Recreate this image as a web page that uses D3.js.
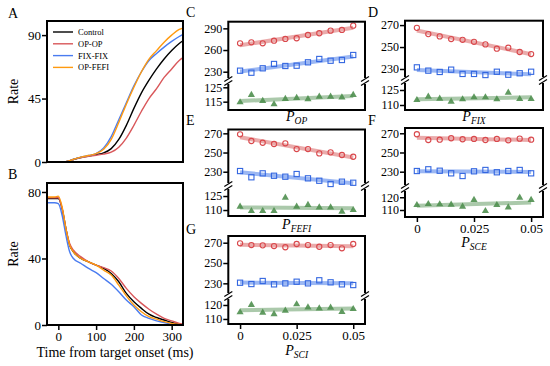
<!DOCTYPE html>
<html>
<head>
<meta charset="utf-8">
<script src="https://cdn.jsdelivr.net/npm/d3@7"></script>
<style>
body{margin:0;background:#fff}
svg, svg text{font-family:"Liberation Serif","Times New Roman",serif}
</style>
</head>
<body>
<svg></svg>
<script>
// ---- panel A : rate vs time (rising) ----
var timeA    = [-30,0,20,40,60,80,100,120,140,160,180,200,220,240,260,280,300,320,330];
var controlA = [0,0,0.3,1.8,3.2,4.2,5.3,6.5,9.5,16,26,38,49,58,66,73,79,84,86];
var opopA    = [0,0,0.3,1.8,3.2,4,4.8,5.6,7,10.5,17,26,36,45,52,60,66,72,74];
var fixfixA  = [0,0,0.3,1.8,3.5,4.6,6,10,18,30,42,54,64,72,77,81.5,85.5,89,90.5];
var opfefiA  = [0,0,0.3,1.8,3.5,4.6,6,9,16,28,41,53,64,73,79,85,90,94,95];

// ---- panel B : rate vs time (falling) ----
var timeB    = [-30,-20,-10,0,10,20,30,40,60,80,100,120,140,160,180,200,220,240,260,280,300,320,330];
var controlB = [76,76,76,76,70,58,48,44,40,38,36,34,31,26,19,14,10,6.5,4.5,3,1.5,0.5,0.2];
var opopB    = [76.5,76.5,76.5,76.5,70,58,49,45,41,38,36,34.5,32.5,28,22,17,13,9.5,6.5,4,2.5,1,0.5];
var fixfixB  = [73.5,73.5,73.5,73,66,54,44,40,37,34,31.5,28,24.5,20,15,11,6,4,2.5,1.5,0.5,0,0];
var opfefiB  = [77,77,77,77.5,71,58,48,44,40,38,36,33,30,24,17.5,12,8,5,3.5,2,1,0.3,0];

var seriesNames = ["Control","OP-OP","FIX-FIX","OP-FEFI"];
var seriesColors = ["#000000","#d9575a","#4a7cf0","#ff9a10"];

// ---- panels C-G : x = parameter value ----
var pVals = [0,0.005,0.01,0.015,0.02,0.025,0.03,0.035,0.04,0.045,0.05];
var pTicks = [0,0.025,0.05];

var cRed   = [269.3,270.7,269.3,272.9,275.3,276.3,280.8,283.2,286.8,287.8,293.7];
var cBlue  = [231.4,228.6,234.7,240.7,237.9,238.3,243,247.6,245.2,246.2,253.1];
var cGreen = [114.6,119.7,115.5,113.2,116.9,117.6,116.7,118.5,118.5,118,119.7];

var dRed   = [267.5,261.8,259.7,257.3,256.6,254.8,252.4,248.5,249.4,245.5,243.6];
var dBlue  = [231.5,228.5,227.3,229.4,225.5,225.5,224.5,227.5,224.8,226.1,227.5];
var dGreen = [115,118.3,116.3,113.3,115.7,117.7,117.7,115.7,122.3,116,116];

var eRed   = [269,262,260.2,258.9,259.6,253.6,253.6,249.1,250.2,247.4,245.6];
var eBlue  = [230.7,224.2,228.3,225.8,224.8,227.6,223.1,220.6,217.2,219.6,218.5];
var eGreen = [113.6,108.9,108.9,108.9,123.2,113.6,115.4,112.9,112.9,108.2,110];

var fRed   = [269,263,263.3,264.8,263.8,264.1,263,264.1,262.7,264.4,263.3];
var fBlue  = [230.7,232.5,231,228.3,225.5,230.4,231.8,229.4,230.7,231.8,228.3];
var fGreen = [113.9,114.7,114.5,114.2,112.6,117.9,109.2,113.9,112.1,119.7,117.9];

var gRed   = [269.4,267.7,267.4,266.7,265.5,268.7,267.7,266,267.7,264.5,268.7];
var gBlue  = [230.6,229.3,232.3,229,230,231.6,230,233,231,229,228.3];
var gGreen = [114.8,120,114.5,113.4,115.9,120.5,118.3,117.6,118.1,115,117.1];

var svg = d3.select("svg").attr("width", 550).attr("height", 366);

function frame(g, l, t, r, b, w){
    g.append("rect").attr("x", l).attr("y", t).attr("width", r - l).attr("height", b - t)
        .attr("fill", "none").attr("stroke", "#000").attr("stroke-width", w);
}

// strip d3's default axis styling so the serif font is used
function styleAxis(ax, fs){
    ax.attr("font-family", null).attr("font-size", null);
    ax.select(".domain").remove();
    ax.selectAll("line").attr("stroke-width", 1.5);
    ax.selectAll("text").style("font-size", fs).attr("fill", "#000");
}

// time panels
function timePanel(top, bottom, yMax, yTicks, t, data, xAxis){
    var x = d3.scaleLinear().domain([-30, 330]).range([47, 183]);
    var y = d3.scaleLinear().domain([0, yMax]).range([bottom, top]);
    var g = svg.append("g");
    var line = d3.line().x(function(d, i){ return x(t[i]); }).y(function(d){ return y(d); }).curve(d3.curveMonotoneX);
    data.forEach(function(s, k){
        g.append("path").datum(s).attr("d", line).attr("fill", "none")
            .attr("stroke", seriesColors[k]).attr("stroke-width", 1.4);
    });
    var ya = g.append("g").attr("transform", "translate(47,0)")
        .call(d3.axisLeft(y).tickValues(yTicks).tickSize(5).tickPadding(1));
    styleAxis(ya, "13px");
    if(xAxis){
        var xa = g.append("g").attr("transform", "translate(0," + bottom + ")")
            .call(d3.axisBottom(x).tickValues([0,100,200,300]).tickSize(5).tickPadding(2));
        styleAxis(xa, "13px");
    }
    frame(g, 47, top, 183, bottom, 2);
    g.append("text").attr("transform", "translate(18," + (top + bottom) / 2 + ") rotate(-90)")
        .attr("text-anchor", "middle").style("font-size", "14px").text("Rate");
}

timePanel(21, 162, 100, [0,45,90], timeA, [controlA, opopA, fixfixA, opfefiA], false);
timePanel(183, 325, 85.4, [0,40,80], timeB, [controlB, opopB, fixfixB, opfefiB], true);

// legend in A
var leg = svg.append("g");
seriesNames.forEach(function(n, k){
    var yy = 32 + k * 11.8;
    leg.append("line").attr("x1", 53).attr("x2", 73).attr("y1", yy).attr("y2", yy)
        .attr("stroke", seriesColors[k]).attr("stroke-width", 1.4);
    leg.append("text").attr("x", 78).attr("y", yy + 3).style("font-size", "8.5px").text(n);
});

svg.append("text").attr("x", 115).attr("y", 357).attr("text-anchor", "middle")
    .style("font-size", "14px").text("Time from target onset (ms)");

// broken-axis parameter panels
var redC = "#d9484c", blueC = "#3366e0", greenC = "#4f8f4f";
var redL = "#e49090", blueL = "#7aa0f0", greenL = "#8fb88f";

function fit(xs, ys){
    var mx = d3.mean(xs), my = d3.mean(ys), sxy = 0, sxx = 0;
    xs.forEach(function(v, i){ sxy += (v - mx) * (ys[i] - my); sxx += (v - mx) * (v - mx); });
    var b = sxy / sxx;
    return function(v){ return my + b * (v - mx); };
}

function breakMark(g, x, y){
    g.append("rect").attr("x", x - 2).attr("y", y - 3).attr("width", 4).attr("height", 6).attr("fill", "#fff");
    [-2, 2].forEach(function(o){
        g.append("line").attr("x1", x - 4).attr("y1", y + o + 2.5).attr("x2", x + 4).attr("y2", y + o - 2.5)
            .attr("stroke", "#000").attr("stroke-width", 1.2);
    });
}

function pPanel(c){
    var g = svg.append("g");
    var x = d3.scaleLinear().domain([-0.0052, 0.0552]).range([c.left, c.right]);
    var yU = d3.scaleLinear().domain(c.upper).range([c.brk - 2, c.top]);
    var yL = d3.scaleLinear().domain(c.lower).range([c.bottom, c.brk + 2]);

    // regression lines
    [[c.red, yU, redL], [c.blue, yU, blueL], [c.green, yL, greenL]].forEach(function(s){
        var f = fit(pVals, s[0]);
        g.append("line").attr("x1", x(0)).attr("x2", x(0.05))
            .attr("y1", s[1](f(0))).attr("y2", s[1](f(0.05)))
            .attr("stroke", s[2]).attr("stroke-width", 4).attr("opacity", 0.75);
    });

    g.selectAll(".red").data(c.red).enter().append("circle")
        .attr("cx", function(d, i){ return x(pVals[i]); })
        .attr("cy", function(d){ return yU(d); })
        .attr("r", 2.6).attr("fill", "none").attr("stroke", redC).attr("stroke-width", 1.1);
    g.selectAll(".blue").data(c.blue).enter().append("rect")
        .attr("x", function(d, i){ return x(pVals[i]) - 2.6; })
        .attr("y", function(d){ return yU(d) - 2.6; })
        .attr("width", 5.2).attr("height", 5.2).attr("fill", "none").attr("stroke", blueC).attr("stroke-width", 1.1);
    var tri = d3.symbol().type(d3.symbolTriangle).size(22);
    g.selectAll(".green").data(c.green).enter().append("path")
        .attr("d", tri)
        .attr("transform", function(d, i){ return "translate(" + x(pVals[i]) + "," + yL(d) + ")"; })
        .attr("fill", greenC).attr("opacity", 0.9);

    // y axes
    [[yU, c.uTicks], [yL, c.lTicks]].forEach(function(a){
        var ax = g.append("g").attr("transform", "translate(" + c.left + ",0)")
            .call(d3.axisLeft(a[0]).tickValues(a[1]).tickSize(5).tickPadding(1));
        styleAxis(ax, "12px");
    });
    if(c.xTicks){
        var xa = g.append("g").attr("transform", "translate(0," + c.bottom + ")")
            .call(d3.axisBottom(x).tickValues(pTicks).tickFormat(d3.format("")).tickSize(5).tickPadding(2));
        styleAxis(xa, "13px");
    }
    frame(g, c.left, c.top, c.right, c.bottom, 2);
    breakMark(g, c.left, c.brk);
    breakMark(g, c.right, c.brk);

    var lab = g.append("text").attr("x", (c.left + c.right) / 2).attr("y", c.labelY)
        .attr("text-anchor", "middle").style("font-size", "14px").style("font-style", "italic");
    lab.append("tspan").text("P");
    lab.append("tspan").attr("dy", 3).style("font-size", "9.5px").text(c.sub);

    svg.append("text").attr("x", c.letterX).attr("y", c.letterY).style("font-size", "14px").text(c.letter);
}

pPanel({letter:"C", letterX:186, letterY:17, left:228.3, right:365, top:21.7, bottom:110, brk:81,
    upper:[219.9,299.2], lower:[109.2,128], uTicks:[230,260,290], lTicks:[115,125],
    red:cRed, blue:cBlue, green:cGreen, sub:"OP", labelY:121, xTicks:false});
pPanel({letter:"D", letterX:368, letterY:17, left:405, right:543, top:20.7, bottom:110, brk:80,
    upper:[221.8,274], lower:[105,133], uTicks:[230,250,270], lTicks:[110,125],
    red:dRed, blue:dBlue, green:dGreen, sub:"FIX", labelY:121, xTicks:false});
pPanel({letter:"E", letterX:186, letterY:125, left:228.3, right:365, top:129.5, bottom:216, brk:186,
    upper:[217.2,274], lower:[103.6,133.6], uTicks:[230,250,270], lTicks:[110,125],
    red:eRed, blue:eBlue, green:eGreen, sub:"FEFI", labelY:229, xTicks:false});
pPanel({letter:"F", letterX:368, letterY:125, left:405, right:543, top:128, bottom:217, brk:188,
    upper:[215.1,275.5], lower:[104.5,125.7], uTicks:[230,250,270], lTicks:[110,120],
    red:fRed, blue:fBlue, green:fGreen, sub:"SCE", labelY:247, xTicks:true});
pPanel({letter:"G", letterX:186, letterY:234, left:228.3, right:365, top:236, bottom:324, brk:296,
    upper:[219.5,276.6], lower:[106.4,125], uTicks:[230,250,270], lTicks:[110,120],
    red:gRed, blue:gBlue, green:gGreen, sub:"SCI", labelY:355, xTicks:true});

svg.append("text").attr("x", 8).attr("y", 17.5).style("font-size", "14px").text("A");
svg.append("text").attr("x", 8).attr("y", 179).style("font-size", "14px").text("B");
</script>
</body>
</html>
